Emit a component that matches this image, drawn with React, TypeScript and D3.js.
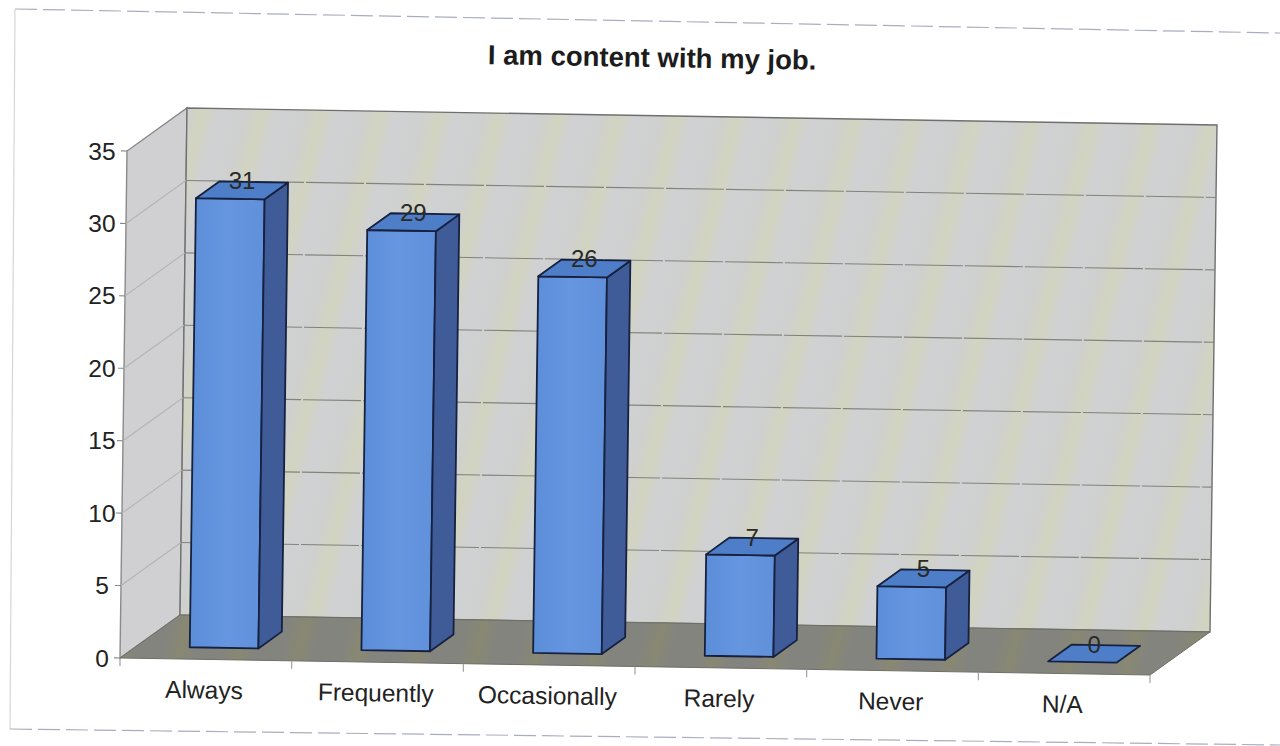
import React from "react";
import * as d3 from "d3";

const categories = ["Always", "Frequently", "Occasionally", "Rarely", "Never", "N/A"];
const counts = [31, 29, 26, 7, 5, 0];
const yTicks = [0, 5, 10, 15, 20, 25, 30, 35];
const chartTitle = "I am content with my job.";

const W = 1280, H = 746;
// oblique projection of the 3D plot box: category run, value rise, depth
const origin = { x: 120, y: 658 };
const run = { x: 1030, y: 17 };
const rise = { x: 7, y: -507 };
const depth = { x: 60, y: -43 };

const xBand = d3.scaleBand<string>().domain(categories).range([0.002, 1.002]).paddingInner(0.6).paddingOuter(0.3);
const yVal = d3.scaleLinear().domain([0, 35]).range([0, 1]);
const D0 = 0.27, D1 = 0.66;

const P = (u: number, v: number, d: number): [number, number] => [
  origin.x + run.x * u + rise.x * v + depth.x * d,
  origin.y + run.y * u + rise.y * v + depth.y * d,
];
const poly = (pts: [number, number][]) => (d3.line()(pts) as string) + "Z";
const line2 = (a: [number, number], b: [number, number]) => d3.line()([a, b]) as string;

const FONT = "'Liberation Sans', Arial, sans-serif";
const ANGLE = (Math.atan2(run.y, run.x) * 180) / Math.PI;

export default function App() {
  const xEdges = d3.range(0, categories.length + 1).map((i) => i / categories.length);
  return (
    <svg width={W} height={H} viewBox={`0 0 ${W} ${H}`} style={{ position: "absolute", left: 0, top: 0, background: "#fff" }}>
      <defs>
        <linearGradient id="wall" gradientUnits="userSpaceOnUse" x1="186" y1="0" x2="242" y2="14" spreadMethod="repeat">
          <stop offset="0" stopColor="#d0d1d2" />
          <stop offset="0.45" stopColor="#cfd0d0" />
          <stop offset="0.75" stopColor="#d2d4c0" />
          <stop offset="1" stopColor="#d0d1d2" />
        </linearGradient>
        <linearGradient id="floor" gradientUnits="userSpaceOnUse" x1="120" y1="0" x2="176" y2="14" spreadMethod="repeat">
          <stop offset="0" stopColor="#84847f" />
          <stop offset="0.45" stopColor="#84847f" />
          <stop offset="0.75" stopColor="#888872" />
          <stop offset="1" stopColor="#84847f" />
        </linearGradient>
        <linearGradient id="front" x1="0" y1="0" x2="1" y2="0">
          <stop offset="0" stopColor="#5c8dd8" />
          <stop offset="0.5" stopColor="#6696e0" />
          <stop offset="1" stopColor="#6090da" />
        </linearGradient>
      </defs>

      {/* scanned sheet outline */}
      <path d="M15,9 L1280,33" stroke="#a9adc0" strokeWidth={1.2} strokeDasharray="22 6" fill="none" />
      <path d="M15,9 L10,729" stroke="#d6d6d6" strokeWidth={1.2} fill="none" />
      <path d="M10,729 L1280,745" stroke="#a9adc0" strokeWidth={1.2} strokeDasharray="22 6" fill="none" />

      <text x={652} y={67} textAnchor="middle" fontFamily={FONT} fontWeight="bold" fontSize={27.5} fill="#1c1c1c"
        transform={`rotate(${ANGLE} 652 67)`}>{chartTitle}</text>

      {/* walls and floor */}
      <path d={poly([P(0, 0, 0), P(0, 1, 0), P(0, 1, 1), P(0, 0, 1)])} fill="#d0d0d2" stroke="#8a8a8a" strokeWidth={1.4} />
      <path d={poly([P(0, 0, 1), P(0, 1, 1), P(1, 1, 1), P(1, 0, 1)])} fill="url(#wall)" stroke="#6f6f6f" strokeWidth={1.4} />
      <path d={poly([P(0, 0, 0), P(1, 0, 0), P(1, 0, 1), P(0, 0, 1)])} fill="url(#floor)" stroke="#6f6f68" strokeWidth={1} />

      {/* gridlines */}
      {yTicks.filter((t) => t > 0 && t < 35).map((t) => (
        <g key={t} fill="none">
          <path d={line2(P(0, yVal(t), 0), P(0, yVal(t), 1))} stroke="#b4b4b4" strokeWidth={1.1} />
          <path d={line2(P(0, yVal(t), 1), P(1, yVal(t), 1))} stroke="#83837c" strokeWidth={1.1} strokeDasharray="58 2" />
        </g>
      ))}

      {/* axes */}
      {yTicks.map((t) => {
        const [x, y] = P(0, yVal(t), 0);
        return (
          <g key={t}>
            <path d={line2([x - 6, y - 0.1], [x, y])} stroke="#888" strokeWidth={1.1} />
            <text x={origin.x - 18} y={y + 8.5} textAnchor="middle" fontFamily={FONT} fontSize={24.5} fill="#222">{t}</text>
          </g>
        );
      })}
      {xEdges.map((u) => {
        const [x, y] = P(u, 0, 0);
        return <path key={u} d={line2([x, y], [x, y + 8])} stroke="#999" strokeWidth={1.1} />;
      })}
      {categories.map((c) => {
        const u = (xBand(c) as number) + xBand.bandwidth() / 2;
        const [x, y] = P(u, 0, 0);
        return (
          <text key={c} x={x - 4} y={y + 39} textAnchor="middle" fontFamily={FONT} fontSize={24.5} fill="#222"
            transform={`rotate(${ANGLE} ${x - 4} ${y + 39})`}>{c}</text>
        );
      })}

      {/* bars */}
      {categories.map((c, i) => {
        const u0 = xBand(c) as number;
        const u1 = u0 + xBand.bandwidth();
        const v = yVal(counts[i]);
        const [lx, ly] = P((u0 + u1) / 2, v, (D0 + D1) / 2);
        return (
          <g key={c} stroke="#16213f" strokeWidth={1.8} strokeLinejoin="round">
            {v > 0 && <path d={poly([P(u0, 0, D0), P(u1, 0, D0), P(u1, v, D0), P(u0, v, D0)])} fill="url(#front)" />}
            {v > 0 && <path d={poly([P(u1, 0, D0), P(u1, 0, D1), P(u1, v, D1), P(u1, v, D0)])} fill="#3f5c98" />}
            <path d={poly([P(u0, v, D0), P(u1, v, D0), P(u1, v, D1), P(u0, v, D1)])} fill="#4f7ec8" />
            <text x={lx} y={ly - 1} textAnchor="middle" fontFamily={FONT} fontSize={24} fill="#2a2a2a" stroke="none">{counts[i]}</text>
          </g>
        );
      })}
    </svg>
  );
}
